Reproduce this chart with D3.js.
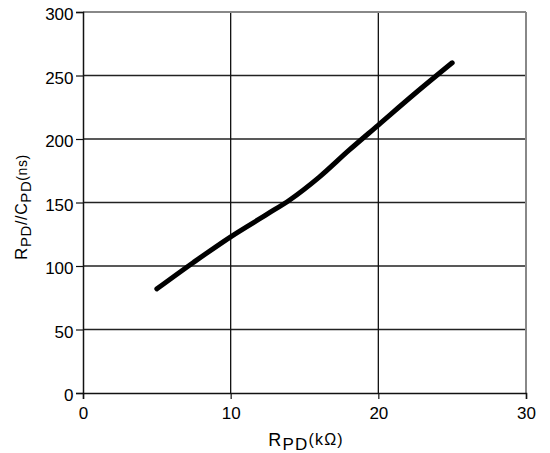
<!DOCTYPE html>
<html>
<head>
<meta charset="utf-8">
<script src="https://cdn.jsdelivr.net/npm/d3@7"></script>
<style>
body { margin: 0; background: #fff; }
text { font-family: "Liberation Sans", Arial, sans-serif; fill: #000; }
</style>
</head>
<body>
<svg id="chart" width="550" height="453"></svg>
<script>
// curve
var rpd = [5, 7.5, 10, 12.5, 14, 16, 18, 20, 22.5, 25];
var tdelay = [82, 103, 123, 141, 152, 170, 191, 211, 236, 260];
var xTicks = [0, 10, 20, 30];
var yTicks = [0, 50, 100, 150, 200, 250, 300];

var svg = d3.select("#chart");
var mLeft = 83, mRight = 526, mTop = 12, mBottom = 393;

var x = d3.scaleLinear().domain([0, 30]).range([mLeft, mRight]);
var y = d3.scaleLinear().domain([0, 300]).range([mBottom, mTop]);

// grid
svg.selectAll(".hg").data(yTicks.filter(function(d){ return d > 0 && d < 300; }))
  .enter().append("line")
  .attr("x1", mLeft).attr("x2", mRight)
  .attr("y1", function(d){ return y(d); }).attr("y2", function(d){ return y(d); })
  .attr("stroke", "#222").attr("stroke-width", 1.3);
svg.selectAll(".vg").data(xTicks.filter(function(d){ return d > 0 && d < 30; }))
  .enter().append("line")
  .attr("y1", mTop).attr("y2", mBottom)
  .attr("x1", function(d){ return x(d); }).attr("x2", function(d){ return x(d); })
  .attr("stroke", "#111").attr("stroke-width", 1.3);

// top and right border, gray
svg.append("line").attr("x1", mLeft).attr("x2", mRight).attr("y1", mTop).attr("y2", mTop)
  .attr("stroke", "#888").attr("stroke-width", 2);
svg.append("line").attr("x1", mRight).attr("x2", mRight).attr("y1", mTop).attr("y2", mBottom)
  .attr("stroke", "#888").attr("stroke-width", 2);

// axes
var xAxis = d3.axisBottom(x).tickValues(xTicks).tickSize(6).tickPadding(8);
var yAxis = d3.axisLeft(y).tickValues(yTicks).tickSize(7).tickPadding(2.5);

var gx = svg.append("g").attr("transform", "translate(0," + mBottom + ")").call(xAxis);
var gy = svg.append("g").attr("transform", "translate(" + mLeft + ",0)").call(yAxis);
[gx, gy].forEach(function(g){
  g.attr("font-size", 17).attr("font-family", "Liberation Sans, Arial, sans-serif");
  g.select(".domain").attr("stroke", "#111").attr("stroke-width", 1.5);
  g.selectAll(".tick line").attr("stroke", "#111").attr("stroke-width", 1.2);
  g.selectAll(".tick text").attr("fill", "#000");
});
gy.selectAll(".tick text").attr("dy", "0.45em");

// the curve
var line = d3.line()
  .x(function(d, i){ return x(rpd[i]); })
  .y(function(d){ return y(d); })
  .curve(d3.curveMonotoneX);
svg.append("path").datum(tdelay)
  .attr("d", line)
  .attr("fill", "none").attr("stroke", "#000")
  .attr("stroke-width", 5).attr("stroke-linecap", "round");

// x label
var xl = svg.append("text").attr("x", 306).attr("y", 446).attr("text-anchor", "middle")
  .attr("letter-spacing", 1.2);
xl.append("tspan").attr("font-size", 18).text("R");
xl.append("tspan").attr("font-size", 17).attr("dy", 4).text("PD");
xl.append("tspan").attr("font-size", 16).attr("dy", -5).text("(kΩ)");

// y label
var yl = svg.append("text").attr("transform", "translate(27,207) rotate(-90)").attr("text-anchor", "middle")
  .attr("letter-spacing", 0.6);
yl.append("tspan").attr("font-size", 17).text("R");
yl.append("tspan").attr("font-size", 15).attr("dy", 4).text("PD");
yl.append("tspan").attr("font-size", 16).attr("dy", -4).text("//C");
yl.append("tspan").attr("font-size", 15).attr("dy", 4).text("PD");
yl.append("tspan").attr("font-size", 14).attr("dy", -4).text("(ns)");
</script>
</body>
</html>
